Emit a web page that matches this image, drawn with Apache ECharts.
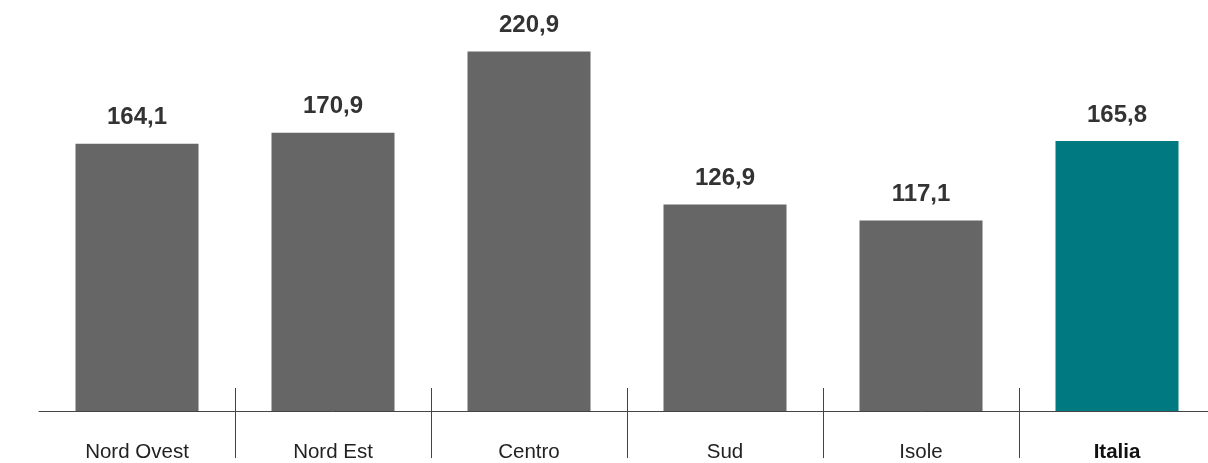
<!DOCTYPE html>
<html>
<head>
<meta charset="utf-8">
<script src="https://cdn.jsdelivr.net/npm/echarts@6/dist/echarts.min.js"></script>
<style>
html,body{margin:0;padding:0;background:#fff;overflow:hidden;}
#chart{width:1216px;height:463px;}
</style>
</head>
<body>
<div id="chart"></div>
<script>
const categories = ['Nord Ovest', 'Nord Est', 'Centro', 'Sud', 'Isole', 'Italia'];
const values = [164.1, 170.9, 220.9, 126.9, 117.1, 165.8];
const highlighted = ['Italia'];

const FONT = '"Liberation Sans", Arial, Helvetica, sans-serif';
const GREY = '#666666';
const TEAL = '#007a80';

const catData = categories.map(c => highlighted.includes(c)
  ? { value: c, textStyle: { fontWeight: 'bold', color: '#111' } }
  : c);

const barData = categories.map((c, i) => ({
  value: values[i],
  itemStyle: { color: highlighted.includes(c) ? TEAL : GREY }
}));

const chart = echarts.init(document.getElementById('chart'), null, { renderer: 'canvas' });
chart.setOption({
  animation: false,
  backgroundColor: '#ffffff',
  grid: { left: 39, right: 1, top: 4, bottom: 47, containLabel: false },
  xAxis: [
    {
      type: 'category',
      data: catData,
      boundaryGap: true,
      axisLine: { show: true, lineStyle: { color: '#444', width: 1 } },
      axisTick: {
        show: true, inside: false, length: 47,
        interval: function (idx) { return idx !== 0; },
        lineStyle: { color: '#444', width: 1 }
      },
      axisLabel: { fontFamily: FONT, fontSize: 20.5, color: '#222', margin: 28 }
    },
    {
      type: 'category',
      data: categories,
      position: 'bottom',
      boundaryGap: true,
      axisLine: { show: false },
      axisTick: {
        show: true, inside: true, length: 26,
        interval: function (idx) { return idx !== 0; },
        lineStyle: { color: '#444', width: 1 }
      },
      axisLabel: { show: false }
    }
  ],
  yAxis: {
    type: 'value',
    min: -1.8,
    max: 250,
    show: false,
    splitLine: { show: false }
  },
  series: [{
    type: 'bar',
    xAxisIndex: 0,
    data: barData,
    barWidth: 123,
    label: {
      show: true,
      position: 'top',
      distance: 14,
      fontFamily: FONT,
      fontSize: 24,
      fontWeight: 'bold',
      color: '#333333',
      formatter: p => p.value.toFixed(1).replace('.', ',')
    }
  }]
});
</script>
</body>
</html>
